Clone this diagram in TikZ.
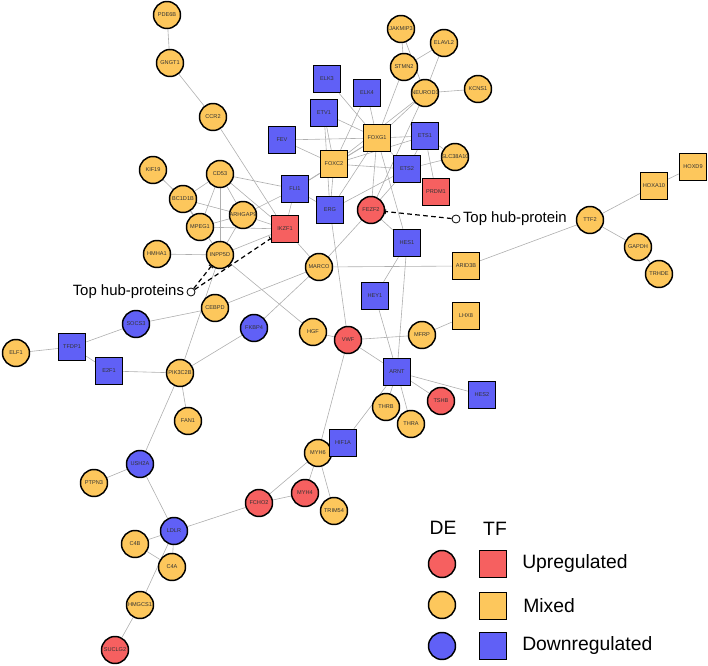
\documentclass[tikz,border=0pt]{standalone}
\usepackage{fontspec}
\setmainfont{Liberation Sans}
\usetikzlibrary{positioning,arrows.meta,backgrounds}

\definecolor{upred}{RGB}{246,96,96}
\definecolor{mixorange}{RGB}{253,199,92}
\definecolor{downblue}{RGB}{96,96,246}
\definecolor{edgegray}{RGB}{175,175,175}

\tikzset{
  nodebase/.style={draw=black, line width=1.1pt, minimum size=20.25pt, inner sep=0pt,
    font=\fontsize{4.2}{5}\selectfont, text=black!80,
    execute at begin node={\hbox to 0pt\bgroup\hss}, execute at end node={\hss\egroup}},
  gene/.style={nodebase, circle},
  tfac/.style={nodebase, rectangle},
  upreg/.style={fill=upred},
  mixreg/.style={fill=mixorange},
  downreg/.style={fill=downblue},
  edge/.style={draw=edgegray, line width=0.45pt},
  hubmark/.style={circle, draw=black, line width=0.6pt, minimum size=6pt, inner sep=0pt, fill=white},
  hubline/.style={dash pattern={on 3.5pt off 2.5pt}, line width=0.9pt, -{Bar[width=4pt,line width=0.6pt]}},
  hubtext/.style={inner sep=0.75pt, font=\fontsize{11.2}{13}\selectfont},
  legtext/.style={inner sep=0.75pt, font=\fontsize{14.5}{17}\selectfont}
}

\begin{document}
\begin{tikzpicture}[x=0.75pt,y=0.75pt,yscale=-1,xscale=1]
\useasboundingbox (0,0) rectangle (708,666);

%Genes (circles)
\node [gene, mixreg] (pdesixb) at (167,15) {PDE6B};
\node [gene, mixreg] (gngt) at (170,63) {GNGT1};
\node [gene, mixreg] (ccr) at (213,117) {CCR2};
\node [gene, mixreg] (kif) at (153,170) {KIF19};
\node [gene, mixreg] (cdft) at (220,174) {CD53};
\node [gene, mixreg] (tbc) at (183,199) {BC1D1B};
\node [gene, mixreg] (arhgap) at (243,215) {ARHGAP9};
\node [gene, mixreg] (mpeg) at (200,227) {MPEG1};
\node [gene, mixreg] (inpp) at (220,255) {INPP5D};
\node [gene, mixreg] (hmha) at (157,254) {HMHA1};
\node [gene, mixreg] (jakmip) at (401,29) {JAKMIP3};
\node [gene, mixreg] (elavl) at (444,43) {ELAVL2};
\node [gene, mixreg] (stmn) at (404,67) {STMN2};
\node [gene, mixreg] (neurod) at (425,93) {NEUROD1};
\node [gene, mixreg] (kcns) at (478,89) {KCNS1};
\node [gene, mixreg] (slc) at (455,157) {SLC38A10};
\node [gene, upreg] (fezf) at (371,210) {FEZF2};
\node [gene, mixreg] (ttf) at (590,220) {TTF2};
\node [gene, mixreg] (gapdh) at (638,247) {GAPDH};
\node [gene, mixreg] (trhde) at (659,274) {TRHDE};
\node [gene, mixreg] (marco) at (319,267) {MARCO};
\node [gene, downreg] (fkbp) at (254,328) {FKBP4};
\node [gene, mixreg] (hgf) at (313,332) {HGF};
\node [gene, upreg] (vwf) at (348,340) {VWF};
\node [gene, mixreg] (mfrp) at (422,335) {MFRP};
\node [gene, upreg] (tshb) at (441,401) {TSHB};
\node [gene, mixreg] (thrb) at (386,407) {THRB};
\node [gene, mixreg] (thra) at (411,424) {THRA};
\node [gene, mixreg] (myhsix) at (318,453) {MYH6};
\node [gene, upreg] (myhfour) at (305,493) {MYH4};
\node [gene, upreg] (fcho) at (259,503) {FCHO2};
\node [gene, mixreg] (trim) at (334,511) {TRIM54};
\node [gene, mixreg] (cebpd) at (215,308) {CEBPD};
\node [gene, downreg] (socs) at (136,324) {SOCS3};
\node [gene, mixreg] (elf) at (16,353) {ELF1};
\node [gene, mixreg] (pik) at (180,373) {PIK3C2B};
\node [gene, mixreg] (fan) at (188,421) {FAN1};
\node [gene, downreg] (ush) at (140,464) {USH2A};
\node [gene, mixreg] (ptpn) at (94,483) {PTPN3};
\node [gene, downreg] (ldlr) at (174,531) {LDLR};
\node [gene, mixreg] (cfb) at (135,544) {C4B};
\node [gene, mixreg] (cfa) at (172,567) {C4A};
\node [gene, mixreg] (hmgcs) at (140,605) {HMGCS1};
\node [gene, upreg] (suclg) at (115,650) {SUCLG2};

%Transcription factors (squares)
\node [tfac, downreg] (elkthree) at (327,79) {ELK3};
\node [tfac, downreg] (elkfour) at (367,93) {ELK4};
\node [tfac, downreg] (etvone) at (324,113) {ETV1};
\node [tfac, downreg] (fev) at (282,140) {FEV};
\node [tfac, mixreg] (foxgone) at (377,138) {FOXG1};
\node [tfac, downreg] (etsone) at (425,136) {ETS1};
\node [tfac, mixreg] (foxc) at (334,164) {FOXC2};
\node [tfac, downreg] (etstwo) at (407,169) {ETS2};
\node [tfac, upreg] (prdm) at (436,192) {PRDM1};
\node [tfac, downreg] (fli) at (295,189) {FLI1};
\node [tfac, upreg] (ikzf) at (285,229) {IKZF1};
\node [tfac, downreg] (erg) at (330,210) {ERG};
\node [tfac, downreg] (hesone) at (407,243) {HES1};
\node [tfac, downreg] (hey) at (375,296) {HEY1};
\node [tfac, mixreg] (arid) at (466,266) {ARID3B};
\node [tfac, mixreg] (lhx) at (466,316) {LHX8};
\node [tfac, downreg] (arnt) at (397,372) {ARNT};
\node [tfac, downreg] (hestwo) at (482,395) {HES2};
\node [tfac, downreg] (hif) at (343,443) {HIF1A};
\node [tfac, mixreg] (hoxa) at (654,186) {HOXA10};
\node [tfac, mixreg] (hoxd) at (693,167) {HOXD9};
\node [tfac, downreg] (tfdp) at (72,347) {TFDP1};
\node [tfac, downreg] (etwof) at (109,371) {E2F1};

%Interactions
\begin{scope}[on background layer]
\draw [edge] (pdesixb) -- (gngt);
\draw [edge] (gngt) -- (ccr);
\draw [edge] (ccr) -- (ikzf);
\draw [edge] (kif) -- (tbc);
\draw [edge] (cdft) -- (tbc);
\draw [edge] (cdft) -- (mpeg);
\draw [edge] (cdft) -- (inpp);
\draw [edge] (cdft) -- (arhgap);
\draw [edge] (cdft) -- (fli);
\draw [edge] (cdft) -- (ikzf);
\draw [edge] (tbc) -- (arhgap);
\draw [edge] (tbc) -- (mpeg);
\draw [edge] (tbc) -- (inpp);
\draw [edge] (mpeg) -- (arhgap);
\draw [edge] (mpeg) -- (ikzf);
\draw [edge] (inpp) -- (arhgap);
\draw [edge] (inpp) -- (ikzf);
\draw [edge] (inpp) -- (hmha);
\draw [edge] (arhgap) -- (ikzf);
\draw [edge] (arhgap) -- (fli);
\draw [edge] (fli) -- (ikzf);
\draw [edge] (fli) -- (foxc);
\draw [edge] (fli) -- (erg);
\draw [edge] (fli) -- (foxgone);
\draw [edge] (elkthree) -- (foxgone);
\draw [edge] (elkfour) -- (foxgone);
\draw [edge] (elkfour) -- (foxc);
\draw [edge] (etvone) -- (foxgone);
\draw [edge] (etvone) -- (foxc);
\draw [edge] (etvone) -- (erg);
\draw [edge] (fev) -- (foxgone);
\draw [edge] (fev) -- (foxc);
\draw [edge] (foxgone) -- (foxc);
\draw [edge] (foxgone) -- (etsone);
\draw [edge] (foxgone) -- (etstwo);
\draw [edge] (foxgone) -- (erg);
\draw [edge] (foxgone) -- (fezf);
\draw [edge] (foxgone) -- (stmn);
\draw [edge] (foxgone) -- (neurod);
\draw [edge] (foxgone) -- (hesone);
\draw [edge] (jakmip) -- (stmn);
\draw [edge] (jakmip) -- (neurod);
\draw [edge] (elavl) -- (stmn);
\draw [edge] (elavl) -- (neurod);
\draw [edge] (neurod) -- (kcns);
\draw [edge] (neurod) -- (foxc);
\draw [edge] (neurod) -- (fezf);
\draw [edge] (etsone) -- (etstwo);
\draw [edge] (etsone) -- (prdm);
\draw [edge] (etsone) -- (foxc);
\draw [edge] (etsone) -- (slc);
\draw [edge] (slc) -- (etstwo);
\draw [edge] (etstwo) -- (foxc);
\draw [edge] (etstwo) -- (erg);
\draw [edge] (etstwo) -- (fezf);
\draw [edge] (fezf) -- (hesone);
\draw [edge] (fezf) -- (marco);
\draw [edge] (erg) -- (foxc);
\draw [edge] (erg) -- (vwf);
\draw [edge] (hesone) -- (arnt);
\draw [edge] (hesone) -- (hey);
\draw [edge] (hey) -- (arnt);
\draw [edge] (marco) -- (arid);
\draw [edge] (marco) -- (ikzf);
\draw [edge] (marco) -- (fkbp);
\draw [edge] (marco) -- (cebpd);
\draw [edge] (inpp) -- (hgf);
\draw [edge] (hgf) -- (vwf);
\draw [edge] (vwf) -- (mfrp);
\draw [edge] (vwf) -- (arnt);
\draw [edge] (vwf) -- (myhsix);
\draw [edge] (mfrp) -- (lhx);
\draw [edge] (arnt) -- (tshb);
\draw [edge] (arnt) -- (hestwo);
\draw [edge] (arnt) -- (thrb);
\draw [edge] (arnt) -- (thra);
\draw [edge] (arnt) -- (hif);
\draw [edge] (myhsix) -- (myhfour);
\draw [edge] (myhsix) -- (fcho);
\draw [edge] (myhsix) -- (trim);
\draw [edge] (myhfour) -- (fcho);
\draw [edge] (fcho) -- (ldlr);
\draw [edge] (ldlr) -- (ush);
\draw [edge] (ldlr) -- (cfb);
\draw [edge] (ldlr) -- (cfa);
\draw [edge] (ldlr) -- (hmgcs);
\draw [edge] (cfb) -- (cfa);
\draw [edge] (hmgcs) -- (suclg);
\draw [edge] (ush) -- (ptpn);
\draw [edge] (ush) -- (pik);
\draw [edge] (pik) -- (etwof);
\draw [edge] (pik) -- (fan);
\draw [edge] (pik) -- (fkbp);
\draw [edge] (pik) -- (inpp);
\draw [edge] (cebpd) -- (socs);
\draw [edge] (tfdp) -- (socs);
\draw [edge] (tfdp) -- (elf);
\draw [edge] (tfdp) -- (etwof);
\draw [edge] (ttf) -- (arid);
\draw [edge] (ttf) -- (hoxa);
\draw [edge] (hoxa) -- (hoxd);
\draw [edge] (ttf) -- (gapdh);
\draw [edge] (gapdh) -- (trhde);
\end{scope}

%Hub markers
\node [hubmark] (hubL) at (191,292) {};
\node [hubtext, left=1pt of hubL] (hubLtext) {Top hub-proteins};
\draw [hubline] (hubL) -- (inpp);
\draw [hubline] (hubL) -- (ikzf);
\node [hubmark] (hubR) at (456,219) {};
\node [hubtext, right=1pt of hubR] (hubRtext) {Top hub-protein};
\draw [hubline] (hubR) -- (fezf);

%Legend
\node [legtext] (detitle) at (443,528) {DE};
\node [legtext] (tftitle) at (495,529) {TF};
\node [gene, upreg] (legdeup) at (442,564) {};
\node [gene, mixreg] (legdemix) at (442,605) {};
\node [gene, downreg] (legdedown) at (442,646) {};
\node [tfac, upreg] (legtfup) at (493,564) {};
\node [tfac, mixreg] (legtfmix) at (493,606) {};
\node [tfac, downreg] (legtfdown) at (493,646) {};
\node [legtext, anchor=west] (legup) at (521,564) {Upregulated};
\node [legtext, anchor=west] (legmix) at (522,606) {Mixed};
\node [legtext, anchor=west] (legdown) at (521,646) {Downregulated};

\end{tikzpicture}
\end{document}
